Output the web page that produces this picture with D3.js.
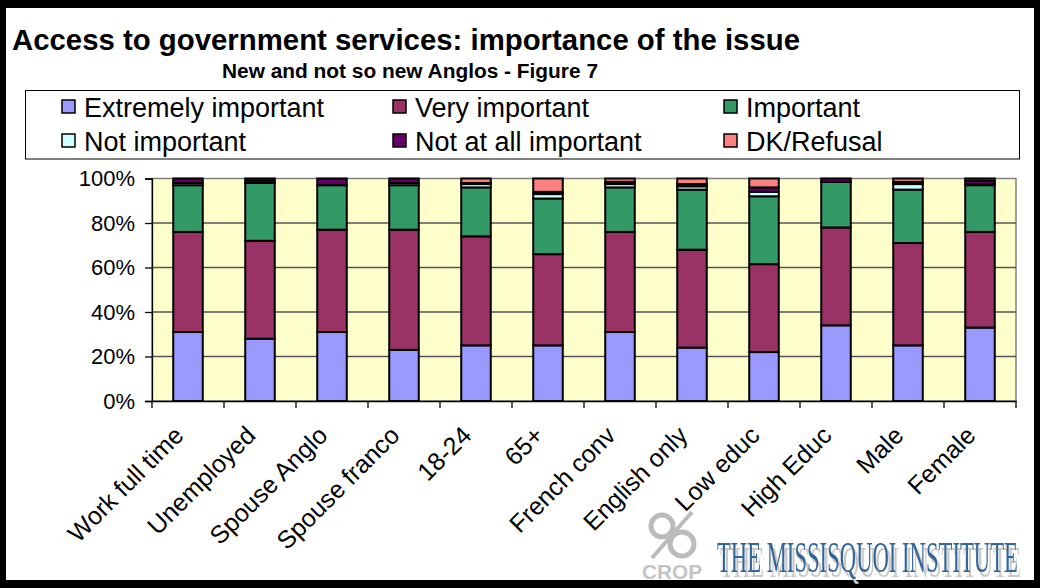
<!DOCTYPE html>
<html>
<head>
<meta charset="utf-8">
<script src="https://cdn.jsdelivr.net/npm/d3@7"></script>
<style>
html,body{margin:0;padding:0;background:#fff;}
svg{display:block;font-family:"Liberation Sans",Arial,sans-serif;}
</style>
</head>
<body>
<svg id="chart" width="1040" height="588"></svg>
<script>
const categories = ["Work full time","Unemployed","Spouse Anglo","Spouse franco","18-24","65+","French conv","English only","Low educ","High Educ","Male","Female"];
const seriesNames = ["Extremely important","Very important","Important","Not important","Not at all important","DK/Refusal"];
const extremely    = [31, 28, 31, 23, 25, 25, 31, 24, 22, 34, 25, 33];
const very         = [45, 44, 46, 54, 49, 41, 45, 44, 39.5, 44, 46, 43];
const important    = [21, 26, 20, 20, 22, 25, 20, 27, 30.5, 20.5, 24, 21];
const notImportant = [1, 1, 0, 1, 1.5, 2, 1.5, 1.5, 2, 0, 2.5, 0.5];
const notAtAll     = [2, 1, 3, 2, 0.5, 1, 1, 1, 2, 1.5, 1, 1.5];
const dkRefusal    = [0, 0, 0, 0, 2, 6, 1.5, 2.5, 4, 0, 1.5, 1];
const yTicks = [0, 20, 40, 60, 80, 100];
const colors = ["#9999FF","#993366","#339966","#CCFFFF","#660066","#FF8080"];

const seriesValues = [extremely, very, important, notImportant, notAtAll, dkRefusal];
const table = categories.map((c, i) => {
  const row = {category: c};
  seriesNames.forEach((s, k) => row[s] = seriesValues[k][i]);
  return row;
});

const svg = d3.select("#chart");

// shadow filter for the institute logo
const defs = svg.append("defs");
const f = defs.append("filter").attr("id","shadow").attr("x","-5%").attr("y","-20%").attr("width","115%").attr("height","150%");
f.append("feFlood").attr("flood-color","#c8c8c8").attr("result","flood");
f.append("feComposite").attr("in","flood").attr("in2","SourceAlpha").attr("operator","in").attr("result","gray");
f.append("feOffset").attr("in","gray").attr("dx",6).attr("dy",5).attr("result","off");
const m = f.append("feMerge");
m.append("feMergeNode").attr("in","off");
m.append("feMergeNode").attr("in","SourceGraphic");

// frame
svg.append("rect").attr("x",0).attr("y",0).attr("width",1040).attr("height",588).attr("fill","#000");
svg.append("rect").attr("x",6).attr("y",8).attr("width",1028).attr("height",572).attr("fill","#fff");

// titles
svg.append("text").attr("x",12).attr("y",50).attr("font-size",30).attr("font-weight","bold")
  .attr("textLength",788).attr("lengthAdjust","spacingAndGlyphs")
  .text("Access to government services: importance of the issue");
svg.append("text").attr("x",222).attr("y",78).attr("font-size",19.5).attr("font-weight","bold")
  .attr("textLength",376).attr("lengthAdjust","spacingAndGlyphs")
  .text("New and not so new Anglos - Figure 7");

// legend
svg.append("rect").attr("x",25.5).attr("y",90.5).attr("width",994).attr("height",68.5)
  .attr("fill","#fff").attr("stroke","#000").attr("stroke-width",1);
const legCols = [62, 393, 724];
const legRows = [117, 151];
seriesNames.forEach((s, k) => {
  const cx = legCols[k % 3], cy = legRows[Math.floor(k / 3)];
  svg.append("rect").attr("x",cx).attr("y",cy-17).attr("width",13).attr("height",13)
    .attr("fill",colors[k]).attr("stroke","#000").attr("stroke-width",1.5);
  svg.append("text").attr("x",cx+22).attr("y",cy).attr("font-size",27).text(s);
});

// plot
const x0 = 152, x1 = 1016, yTop = 178.5, yBot = 401;
const x = d3.scaleBand().domain(categories).range([x0, x1]).paddingInner(0.59).paddingOuter(0.295);
const y = d3.scaleLinear().domain([0, 100]).range([yBot, yTop]);

svg.append("rect").attr("x",x0).attr("y",yTop).attr("width",x1-x0).attr("height",yBot-yTop)
  .attr("fill","#FFFFCC").attr("stroke","#808080").attr("stroke-width",1.5);

// gridlines
svg.append("g").selectAll("line").data(yTicks.filter(t => t > 0 && t < 100)).join("line")
  .attr("x1",x0).attr("x2",x1).attr("y1",d => y(d)).attr("y2",d => y(d))
  .attr("stroke","#555").attr("stroke-width",1.3);

// bars
const stack = d3.stack().keys(seriesNames);
const stacked = stack(table);
svg.append("g").selectAll("g").data(stacked).join("g")
  .attr("fill",(d, k) => colors[k])
  .selectAll("rect").data(d => d.filter(p => p[1] - p[0] > 0)).join("rect")
  .attr("x",d => x(d.data.category))
  .attr("width",x.bandwidth())
  .attr("y",d => y(d[1]))
  .attr("height",d => y(d[0]) - y(d[1]))
  .attr("stroke","#000").attr("stroke-width",2);

// y axis
const yAxis = d3.axisLeft(y).tickValues(yTicks).tickFormat(d => d + "%").tickSize(7).tickPadding(10);
const ya = svg.append("g").attr("transform",`translate(${x0},0)`).call(yAxis);
ya.select(".domain").attr("stroke","#000").attr("stroke-width",1.3);
ya.selectAll(".tick line").attr("stroke","#000").attr("stroke-width",1.3);
ya.selectAll(".tick text").attr("font-size",22).attr("fill","#000").attr("font-family","Liberation Sans, Arial, sans-serif");

// x axis
const xAxis = d3.axisBottom(x).tickSize(0).tickFormat("");
const xa = svg.append("g").attr("transform",`translate(0,${yBot})`).call(xAxis);
xa.select(".domain").attr("stroke","#000").attr("stroke-width",1.3);
// category separators
svg.append("g").selectAll("line").data(d3.range(categories.length + 1)).join("line")
  .attr("x1",i => x0 + i * x.step()).attr("x2",i => x0 + i * x.step())
  .attr("y1",yBot).attr("y2",yBot + 7).attr("stroke","#000").attr("stroke-width",1.3);
// labels
svg.append("g").selectAll("text").data(categories).join("text")
  .attr("transform",d => `translate(${x(d) + x.bandwidth()/2 - 3},${yBot + 36}) rotate(-45)`)
  .attr("text-anchor","end").attr("font-size",25).text(d => d);

// logos
const crop = svg.append("g").attr("fill","none").attr("stroke","#bbb").attr("stroke-width",5);
crop.append("circle").attr("cx",662).attr("cy",526).attr("r",11);
crop.append("circle").attr("cx",682).attr("cy",544).attr("r",12);
crop.append("line").attr("x1",692).attr("y1",512).attr("x2",652).attr("y2",558).attr("stroke-width",4);
svg.append("text").attr("x",642).attr("y",579).attr("font-size",21).attr("font-weight","bold")
  .attr("fill","#c4c4c4").attr("textLength",60).attr("lengthAdjust","spacingAndGlyphs").text("CROP");
const inst = svg.append("text").attr("x",0).attr("y",0).attr("font-size",44)
  .attr("font-family","Liberation Serif, Times New Roman, serif")
  .attr("fill","#336699").attr("filter","url(#shadow)")
  .text("THE MISSISQUOI INSTITUTE");
const natW = inst.node().getComputedTextLength();
inst.attr("transform",`translate(717,572) scale(${301 / natW},1)`);
</script>
</body>
</html>
